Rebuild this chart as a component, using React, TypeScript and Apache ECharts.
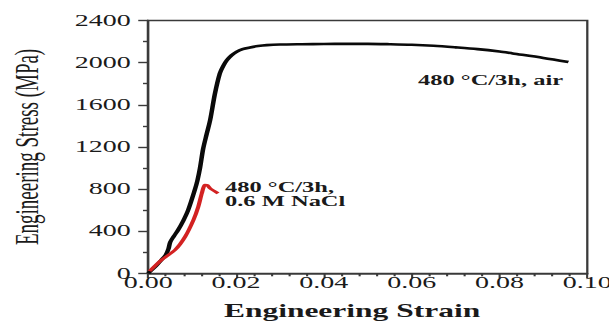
import React, { useEffect, useRef } from "react";
import * as echarts from "echarts";

// Data (strain, stress in MPa)
const airStrain = [0, 0.001, 0.002, 0.003, 0.004, 0.0046, 0.005, 0.0058, 0.0068, 0.008, 0.0091, 0.0106, 0.0112, 0.0118, 0.0125, 0.0133, 0.0141, 0.0152, 0.0163, 0.0171, 0.0179, 0.019, 0.0201, 0.0215, 0.0232, 0.025, 0.027, 0.03, 0.035, 0.04, 0.045, 0.05, 0.055, 0.06, 0.065, 0.07, 0.075, 0.08, 0.083, 0.09, 0.0957];
const airStress = [0, 40, 80, 126, 175, 230, 295, 350, 411, 500, 600, 790, 880, 1000, 1180, 1320, 1454, 1707, 1897, 1970, 2023, 2070, 2102, 2128, 2144, 2157, 2166, 2172, 2175, 2177, 2178, 2178, 2175, 2170, 2160, 2145, 2128, 2105, 2087, 2045, 2007];

const naclStrain = [0.0003, 0.003, 0.0061, 0.0084, 0.0103, 0.0114, 0.0122, 0.0129, 0.0135, 0.0141, 0.0159];
const naclStress = [20, 126, 221, 347, 506, 632, 759, 838, 835, 806, 759];

const xTicks = { min: 0, max: 0.1, interval: 0.02 };
const yTicks = { min: 0, max: 2400, interval: 400 };

const airLabel = "480 °C/3h, air";
const naclLabel = "480 °C/3h,\n0.6 M NaCl";

const SCALE = 1.75;
const W = 609 / SCALE;
const H = 322;

export default function App() {
  const ref = useRef<HTMLDivElement>(null);
  useEffect(() => {
    if (!ref.current) return;
    const chart = echarts.init(ref.current, undefined, { renderer: "svg" });
    const serif = "Liberation Serif";
    chart.setOption({
      animation: false,
      backgroundColor: "#ffffff",
      grid: {
        left: 84.7,
        right: W - 587.3 / SCALE,
        top: 20.5,
        bottom: 48.7,
        outerBoundsMode: "none",
        containLabel: false,
        show: true,
        borderColor: "#3a3a3a",
        borderWidth: 1.3,
        backgroundColor: "transparent",
      },
      xAxis: {
        type: "value",
        min: xTicks.min,
        max: xTicks.max,
        interval: xTicks.interval,
        name: "Engineering Strain",
        nameLocation: "middle",
        nameGap: 29,
        nameTextStyle: {
          fontFamily: serif,
          fontWeight: "bold",
          fontSize: 18,
          color: "#1a1a1a",
          padding: [0, 18, 0, 0],
        },
        axisLine: { show: true, onZero: false, lineStyle: { color: "#3a3a3a", width: 1.6 } },
        axisTick: { show: true, inside: false, length: 5, lineStyle: { color: "#3a3a3a", width: 1.2 } },
        minorTick: { show: true, splitNumber: 5, length: 3, lineStyle: { color: "#3a3a3a", width: 1.2 } },
        splitLine: { show: false },
        axisLabel: {
          fontFamily: serif,
          fontSize: 16,
          lineHeight: 14,
          color: "#1a1a1a",
          margin: 2,
          formatter: (v: number) => v.toFixed(2),
        },
      },
      yAxis: {
        type: "value",
        min: yTicks.min,
        max: yTicks.max,
        interval: yTicks.interval,
        name: "Engineering Stress (MPa)",
        nameLocation: "middle",
        nameRotate: 90,
        nameGap: 60,
        nameTextStyle: {
          fontFamily: serif,
          fontSize: 19,
          color: "#1a1a1a",
        },
        axisLine: { show: true, onZero: false, lineStyle: { color: "#3a3a3a", width: 1.3 } },
        axisTick: { show: true, inside: false, length: 5.7, lineStyle: { color: "#3a3a3a", width: 1.4 } },
        minorTick: { show: true, splitNumber: 2, length: 3, lineStyle: { color: "#3a3a3a", width: 1.4 } },
        splitLine: { show: false },
        axisLabel: {
          fontFamily: serif,
          fontSize: 16,
          lineHeight: 11,
          color: "#1a1a1a",
          margin: 10,
          formatter: (v: number) => String(v),
        },
      },
      series: [
        {
          type: "line",
          name: "air",
          data: airStrain.map((x, i) => [x, airStress[i]]),
          showSymbol: false,
          smooth: 0.3,
          lineStyle: { color: "#0a0a0a", width: 2.6 },
          z: 2,
        },
        {
          type: "line",
          name: "NaCl",
          data: naclStrain.map((x, i) => [x, naclStress[i]]),
          showSymbol: false,
          smooth: 0.2,
          lineStyle: { color: "#d32222", width: 2.4 },
          z: 3,
        },
      ],
      graphic: [
        {
          type: "text",
          left: 418 / SCALE,
          top: 73,
          style: {
            text: airLabel,
            font: `bold 14px ${serif}`,
            fill: "#1a1a1a",
          },
        },
        {
          type: "text",
          left: 225 / SCALE,
          top: 180,
          style: {
            text: naclLabel,
            font: `bold 14px ${serif}`,
            lineHeight: 14,
            fill: "#1a1a1a",
          },
        },
      ],
    });
    return () => chart.dispose();
  }, []);
  return (
    <div
      style={{
        position: "fixed",
        left: 0,
        top: 0,
        width: W,
        height: H,
        transform: `scaleX(${SCALE})`,
        transformOrigin: "0 0",
        background: "#fff",
      }}
    >
      <div ref={ref} style={{ width: W, height: H }} />
    </div>
  );
}
